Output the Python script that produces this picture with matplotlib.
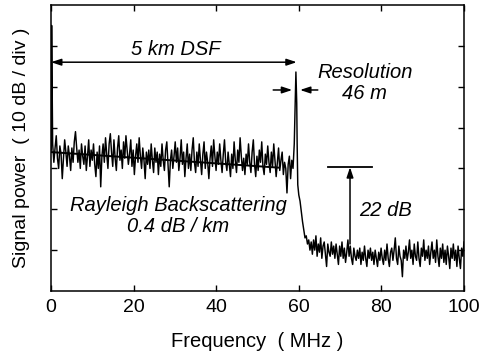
#!/usr/bin/env python3
"""Rayleigh backscattering spectrum (5 km DSF) with Fresnel end peak."""
import numpy as np
import matplotlib
matplotlib.use("Agg")
import matplotlib.pyplot as plt

plt.rcParams["font.family"] = ["Liberation Sans", "DejaVu Sans"]

# --- data (power in divisions, 10 dB / div) ---
dc_freq = [0.05, 0.15]
dc_power = [3.45, 6.50]

# backscatter region 0.4 .. 58.3 MHz
bs_power = [
    3.60, 3.15, 3.50, 3.80, 3.25, 3.00, 3.55, 3.35, 2.75, 3.25, 3.70, 3.40, 3.05, 3.55, 3.30, 2.95, 3.50, 3.15, 3.65, 3.90,
    3.50, 3.15, 3.45, 3.00, 3.60, 3.30, 3.10, 3.55, 2.95, 3.30, 3.70, 3.05, 3.45, 3.20, 3.60, 3.10, 2.80, 3.40, 3.00, 3.55,
    2.55, 3.30, 3.60, 3.15, 3.75, 3.35, 3.00, 3.60, 3.85, 3.40, 3.05, 3.70, 3.25, 2.95, 3.50, 3.80, 3.20, 3.45, 3.00, 3.65,
    3.25, 3.80, 3.45, 3.10, 3.35, 3.70, 3.05, 3.45, 2.85, 3.30, 3.60, 3.15, 3.75, 3.30, 3.00, 3.50, 3.20, 2.75, 3.40, 3.10,
    3.45, 3.00, 3.60, 3.20, 2.90, 3.50, 3.15, 3.40, 2.85, 3.35, 3.05, 3.60, 3.20, 2.95, 3.45, 3.65, 3.10, 2.55, 3.20, 3.45,
    3.00, 3.30, 3.65, 3.15, 3.50, 2.95, 3.25, 3.70, 3.10, 3.40, 2.80, 3.25, 3.60, 3.00, 3.35, 2.95, 3.45, 3.75, 3.15, 2.90,
    3.40, 3.05, 3.60, 3.20, 2.85, 3.35, 3.65, 3.00, 3.40, 3.15, 2.75, 3.25, 3.55, 3.05, 3.70, 3.30, 2.95, 3.40, 3.10, 3.60,
    3.20, 2.90, 3.35, 3.70, 3.15, 2.95, 3.40, 3.10, 2.80, 3.35, 3.00, 3.65, 3.20, 2.90, 3.45, 3.15, 3.75, 3.30, 2.95, 3.25,
    2.85, 3.35, 3.10, 3.60, 3.15, 2.90, 3.40, 3.70, 3.10, 2.80, 3.30, 2.95, 3.45, 3.15, 3.65, 3.05, 2.85, 3.35, 3.10, 3.55,
    3.15, 2.90, 3.40, 3.05, 3.60, 3.20, 2.80, 3.15, 3.50, 2.95, 3.20, 3.40, 2.85, 3.15, 3.00, 2.40, 3.10, 3.30, 2.75, 3.20,
]
bs_freq = np.linspace(0.4, 58.3, len(bs_power))

# Fresnel reflection at fibre end
pk_freq = [58.6, 58.9, 59.1, 59.3, 59.5, 59.6, 59.75, 60.0, 60.3, 60.6, 60.9, 61.2, 61.5, 61.8, 62.1, 62.4, 62.7]
pk_power = [3.00, 3.60, 4.50, 5.36, 4.60, 3.60, 2.60, 2.35, 2.20, 1.95, 1.70, 1.50, 1.30, 1.35, 1.15, 1.25, 1.00]

# noise floor 63 .. 100 MHz
nf_power = [
    1.20, 0.90, 1.25, 1.00, 1.35, 0.85, 1.15, 0.95, 1.30, 0.80, 1.10, 1.20, 0.90, 0.60, 1.15, 0.95, 0.85, 1.20, 0.90, 1.10,
    0.80, 1.15, 0.90, 0.65, 1.10, 0.85, 1.20, 0.80, 1.05, 0.70, 0.95, 1.25, 0.85, 1.10, 0.80, 0.65, 1.05, 0.85, 0.75, 1.00,
    0.80, 1.05, 0.65, 0.95, 0.75, 1.10, 0.80, 0.60, 1.00, 0.80, 1.05, 0.75, 0.95, 0.65, 1.00, 0.80, 0.60, 0.95, 0.75, 1.05,
    0.80, 0.65, 1.00, 0.75, 1.15, 0.80, 0.60, 0.95, 1.05, 0.75, 1.00, 1.30, 0.80, 0.65, 1.10, 0.85, 0.75, 0.35, 1.00, 0.80,
    1.10, 0.75, 0.95, 1.25, 0.80, 1.00, 0.65, 1.15, 0.85, 0.75, 1.20, 0.80, 0.60, 1.05, 0.85, 1.25, 0.75, 1.00, 0.80, 1.10,
    0.65, 0.95, 1.20, 0.80, 1.00, 0.70, 1.25, 0.85, 0.60, 1.05, 0.80, 1.15, 0.70, 1.00, 0.65, 1.10, 0.85, 0.55, 1.05, 0.80,
    1.15, 0.75, 1.00, 0.60, 1.10, 0.80, 0.55, 1.05, 0.85, 1.20,
]
nf_freq = np.linspace(63.0, 100.0, len(nf_power))

# linear fit of backscatter (0.4 dB/km)
fit_freq = [0.0, 55.0]
fit_power = [3.40, 3.02]

freq = np.concatenate([dc_freq, bs_freq, pk_freq, nf_freq])
power = np.concatenate([dc_power, bs_power, pk_power, nf_power])

# --- figure ---
fig = plt.figure(figsize=(4.82, 3.60), dpi=100)
ax = fig.add_axes([51 / 482, 1 - 291 / 360, 413 / 482, 286 / 360])

ax.plot(freq, power, color="black", lw=1.05)
ax.plot(fit_freq, fit_power, color="black", lw=1.4)

ax.set_xlim(0, 100)
ax.set_ylim(0, 7)
ax.set_xticks([0, 20, 40, 60, 80, 100])
ax.set_yticks([1, 2, 3, 4, 5, 6])
ax.set_yticklabels([])
ax.tick_params(direction="in", length=4, width=1, top=True, right=True,
               labelsize=14, pad=6)
for sp in ax.spines.values():
    sp.set_linewidth(1.1)

ax.set_xlabel("Frequency  ( MHz )", fontsize=14.5)
ax.xaxis.set_label_coords(0.5, -0.143)
ax.set_ylabel("Signal power  ( 10 dB / div )", fontsize=14)
ax.yaxis.set_label_coords(-0.051, 0.5)

ann = dict(fontsize=14.5, style="italic", ha="center", va="center")
arr = dict(arrowstyle="-|>,head_length=0.6,head_width=0.2", color="black", lw=1.1,
           shrinkA=0, shrinkB=0)

# 5 km DSF
ax.annotate("", xy=(0, 5.6), xytext=(59.5, 5.6),
            arrowprops=dict(arr, arrowstyle="<|-|>,head_length=0.6,head_width=0.2"))
ax.text(30.3, 5.92, "5 km DSF", **ann)

# resolution
ax.annotate("", xy=(58.4, 4.92), xytext=(53.8, 4.92), arrowprops=arr)
ax.annotate("", xy=(60.3, 4.92), xytext=(64.6, 4.92), arrowprops=arr)
ax.text(76, 5.10, "Resolution\n46 m", linespacing=1.15, **ann)

# 22 dB dynamic range
ax.plot([67, 77.7], [3.03, 3.03], color="black", lw=1.3)
ax.annotate("", xy=(72.4, 3.03), xytext=(72.4, 1.15), arrowprops=arr)
ax.text(81, 1.96, "22 dB", **ann)

ax.text(30.8, 1.84, "Rayleigh Backscattering\n0.4 dB / km", linespacing=1.15, **ann)

fig.savefig("out.png", dpi=100)
